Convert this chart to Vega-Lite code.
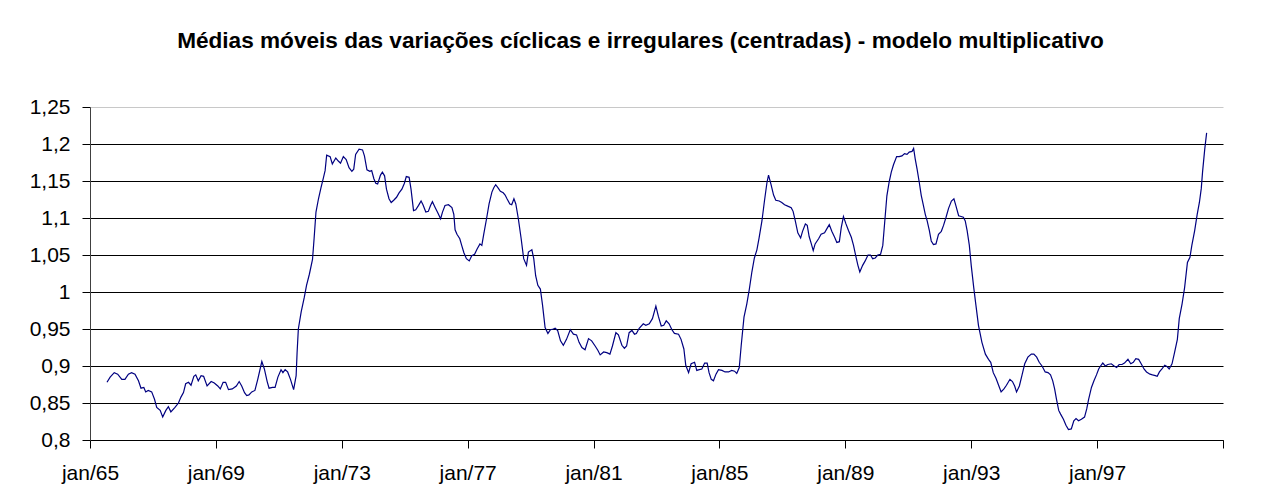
{
  "$schema": "https://vega.github.io/schema/vega-lite/v6.json",
  "width": 1133,
  "height": 333,
  "autosize": {"type": "none"},
  "padding": {"left": 90, "top": 107, "right": 51, "bottom": 60},
  "background": "white",
  "title": {
    "text": "Médias móveis das variações cíclicas e irregulares (centradas) - modelo multiplicativo",
    "font": "Liberation Sans",
    "fontSize": 22.6,
    "fontWeight": "bold",
    "color": "#000000",
    "anchor": "middle",
    "frame": "group",
    "dx": -16,
    "offset": 25,
    "baseline": "alphabetic"
  },
  "data": {
    "values": [
      {"ano": 1965.54, "valor": 0.878}, {"ano": 1965.64, "valor": 0.885}, {"ano": 1965.77, "valor": 0.891}, {"ano": 1965.88, "valor": 0.889},
      {"ano": 1966.01, "valor": 0.882}, {"ano": 1966.11, "valor": 0.882}, {"ano": 1966.22, "valor": 0.889}, {"ano": 1966.32, "valor": 0.891},
      {"ano": 1966.43, "valor": 0.889}, {"ano": 1966.54, "valor": 0.880}, {"ano": 1966.62, "valor": 0.870}, {"ano": 1966.71, "valor": 0.871},
      {"ano": 1966.77, "valor": 0.865}, {"ano": 1966.85, "valor": 0.867}, {"ano": 1966.96, "valor": 0.865}, {"ano": 1967.05, "valor": 0.855},
      {"ano": 1967.12, "valor": 0.844}, {"ano": 1967.23, "valor": 0.840}, {"ano": 1967.31, "valor": 0.831}, {"ano": 1967.41, "valor": 0.840},
      {"ano": 1967.49, "valor": 0.845}, {"ano": 1967.57, "valor": 0.838}, {"ano": 1967.70, "valor": 0.844}, {"ano": 1967.81, "valor": 0.850},
      {"ano": 1967.89, "valor": 0.858}, {"ano": 1967.97, "valor": 0.864}, {"ano": 1968.04, "valor": 0.876}, {"ano": 1968.13, "valor": 0.878},
      {"ano": 1968.21, "valor": 0.874}, {"ano": 1968.30, "valor": 0.886}, {"ano": 1968.36, "valor": 0.888}, {"ano": 1968.44, "valor": 0.880},
      {"ano": 1968.53, "valor": 0.887}, {"ano": 1968.61, "valor": 0.886}, {"ano": 1968.72, "valor": 0.873}, {"ano": 1968.85, "valor": 0.879},
      {"ano": 1968.95, "valor": 0.877}, {"ano": 1969.06, "valor": 0.873}, {"ano": 1969.14, "valor": 0.869}, {"ano": 1969.23, "valor": 0.878},
      {"ano": 1969.31, "valor": 0.878}, {"ano": 1969.40, "valor": 0.868}, {"ano": 1969.52, "valor": 0.869}, {"ano": 1969.65, "valor": 0.873},
      {"ano": 1969.74, "valor": 0.879}, {"ano": 1969.82, "valor": 0.873}, {"ano": 1969.91, "valor": 0.864}, {"ano": 1969.98, "valor": 0.860},
      {"ano": 1970.05, "valor": 0.861}, {"ano": 1970.14, "valor": 0.865}, {"ano": 1970.24, "valor": 0.867}, {"ano": 1970.33, "valor": 0.882},
      {"ano": 1970.46, "valor": 0.906}, {"ano": 1970.54, "valor": 0.896}, {"ano": 1970.63, "valor": 0.879}, {"ano": 1970.69, "valor": 0.870},
      {"ano": 1970.80, "valor": 0.871}, {"ano": 1970.88, "valor": 0.871}, {"ano": 1970.97, "valor": 0.885}, {"ano": 1971.07, "valor": 0.895},
      {"ano": 1971.13, "valor": 0.891}, {"ano": 1971.20, "valor": 0.895}, {"ano": 1971.28, "valor": 0.892}, {"ano": 1971.37, "valor": 0.882},
      {"ano": 1971.47, "valor": 0.868}, {"ano": 1971.55, "valor": 0.887}, {"ano": 1971.58, "valor": 0.918}, {"ano": 1971.62, "valor": 0.950},
      {"ano": 1971.71, "valor": 0.973}, {"ano": 1971.81, "valor": 0.993}, {"ano": 1971.88, "valor": 1.009}, {"ano": 1971.97, "valor": 1.024},
      {"ano": 1972.07, "valor": 1.044}, {"ano": 1972.12, "valor": 1.072}, {"ano": 1972.18, "valor": 1.108}, {"ano": 1972.26, "valor": 1.126},
      {"ano": 1972.34, "valor": 1.141}, {"ano": 1972.42, "valor": 1.155}, {"ano": 1972.47, "valor": 1.164}, {"ano": 1972.52, "valor": 1.185},
      {"ano": 1972.63, "valor": 1.183}, {"ano": 1972.70, "valor": 1.173}, {"ano": 1972.81, "valor": 1.181}, {"ano": 1972.89, "valor": 1.177},
      {"ano": 1972.96, "valor": 1.174}, {"ano": 1973.05, "valor": 1.183}, {"ano": 1973.14, "valor": 1.179}, {"ano": 1973.23, "valor": 1.168},
      {"ano": 1973.32, "valor": 1.163}, {"ano": 1973.38, "valor": 1.166}, {"ano": 1973.44, "valor": 1.186}, {"ano": 1973.55, "valor": 1.193},
      {"ano": 1973.66, "valor": 1.192}, {"ano": 1973.72, "valor": 1.184}, {"ano": 1973.80, "valor": 1.165}, {"ano": 1973.89, "valor": 1.163},
      {"ano": 1973.95, "valor": 1.164}, {"ano": 1974.02, "valor": 1.153}, {"ano": 1974.08, "valor": 1.147}, {"ano": 1974.14, "valor": 1.146},
      {"ano": 1974.23, "valor": 1.158}, {"ano": 1974.29, "valor": 1.162}, {"ano": 1974.36, "valor": 1.157}, {"ano": 1974.42, "valor": 1.139},
      {"ano": 1974.50, "valor": 1.126}, {"ano": 1974.57, "valor": 1.121}, {"ano": 1974.65, "valor": 1.124}, {"ano": 1974.74, "valor": 1.128},
      {"ano": 1974.82, "valor": 1.134}, {"ano": 1974.91, "valor": 1.139}, {"ano": 1974.99, "valor": 1.147}, {"ano": 1975.05, "valor": 1.156},
      {"ano": 1975.14, "valor": 1.155}, {"ano": 1975.20, "valor": 1.139}, {"ano": 1975.28, "valor": 1.110}, {"ano": 1975.35, "valor": 1.111},
      {"ano": 1975.44, "valor": 1.117}, {"ano": 1975.52, "valor": 1.123}, {"ano": 1975.58, "valor": 1.118}, {"ano": 1975.67, "valor": 1.108},
      {"ano": 1975.75, "valor": 1.109}, {"ano": 1975.82, "valor": 1.117}, {"ano": 1975.88, "valor": 1.122}, {"ano": 1975.97, "valor": 1.114},
      {"ano": 1976.05, "valor": 1.107}, {"ano": 1976.14, "valor": 1.099}, {"ano": 1976.20, "valor": 1.108}, {"ano": 1976.28, "valor": 1.117},
      {"ano": 1976.39, "valor": 1.118}, {"ano": 1976.50, "valor": 1.114}, {"ano": 1976.56, "valor": 1.105}, {"ano": 1976.60, "valor": 1.084},
      {"ano": 1976.66, "valor": 1.078}, {"ano": 1976.75, "valor": 1.072}, {"ano": 1976.81, "valor": 1.063}, {"ano": 1976.88, "valor": 1.053},
      {"ano": 1976.96, "valor": 1.045}, {"ano": 1977.05, "valor": 1.042}, {"ano": 1977.13, "valor": 1.049}, {"ano": 1977.22, "valor": 1.051},
      {"ano": 1977.30, "valor": 1.058}, {"ano": 1977.39, "valor": 1.065}, {"ano": 1977.45, "valor": 1.063}, {"ano": 1977.51, "valor": 1.078},
      {"ano": 1977.60, "valor": 1.099}, {"ano": 1977.68, "valor": 1.119}, {"ano": 1977.77, "valor": 1.135}, {"ano": 1977.83, "valor": 1.141},
      {"ano": 1977.89, "valor": 1.145}, {"ano": 1977.96, "valor": 1.141}, {"ano": 1978.04, "valor": 1.136}, {"ano": 1978.13, "valor": 1.134},
      {"ano": 1978.19, "valor": 1.131}, {"ano": 1978.25, "valor": 1.126}, {"ano": 1978.34, "valor": 1.119}, {"ano": 1978.40, "valor": 1.118},
      {"ano": 1978.47, "valor": 1.126}, {"ano": 1978.53, "valor": 1.119}, {"ano": 1978.61, "valor": 1.099}, {"ano": 1978.70, "valor": 1.072},
      {"ano": 1978.78, "valor": 1.045}, {"ano": 1978.87, "valor": 1.036}, {"ano": 1978.93, "valor": 1.054}, {"ano": 1979.04, "valor": 1.057},
      {"ano": 1979.10, "valor": 1.045}, {"ano": 1979.16, "valor": 1.022}, {"ano": 1979.23, "valor": 1.009}, {"ano": 1979.31, "valor": 1.004},
      {"ano": 1979.38, "valor": 0.982}, {"ano": 1979.46, "valor": 0.952}, {"ano": 1979.55, "valor": 0.944}, {"ano": 1979.63, "valor": 0.949},
      {"ano": 1979.72, "valor": 0.950}, {"ano": 1979.78, "valor": 0.951}, {"ano": 1979.86, "valor": 0.948}, {"ano": 1979.95, "valor": 0.934},
      {"ano": 1980.04, "valor": 0.928}, {"ano": 1980.14, "valor": 0.936}, {"ano": 1980.26, "valor": 0.949}, {"ano": 1980.36, "valor": 0.943},
      {"ano": 1980.46, "valor": 0.942}, {"ano": 1980.54, "valor": 0.932}, {"ano": 1980.63, "valor": 0.925}, {"ano": 1980.73, "valor": 0.922},
      {"ano": 1980.84, "valor": 0.937}, {"ano": 1980.94, "valor": 0.934}, {"ano": 1981.05, "valor": 0.927}, {"ano": 1981.14, "valor": 0.921},
      {"ano": 1981.21, "valor": 0.915}, {"ano": 1981.32, "valor": 0.919}, {"ano": 1981.42, "valor": 0.918}, {"ano": 1981.52, "valor": 0.916},
      {"ano": 1981.60, "valor": 0.927}, {"ano": 1981.71, "valor": 0.945}, {"ano": 1981.79, "valor": 0.942}, {"ano": 1981.90, "valor": 0.928},
      {"ano": 1981.98, "valor": 0.924}, {"ano": 1982.05, "valor": 0.927}, {"ano": 1982.13, "valor": 0.945}, {"ano": 1982.22, "valor": 0.948},
      {"ano": 1982.30, "valor": 0.943}, {"ano": 1982.36, "valor": 0.944}, {"ano": 1982.45, "valor": 0.951}, {"ano": 1982.58, "valor": 0.957},
      {"ano": 1982.66, "valor": 0.955}, {"ano": 1982.77, "valor": 0.957}, {"ano": 1982.87, "valor": 0.964}, {"ano": 1982.98, "valor": 0.981},
      {"ano": 1983.06, "valor": 0.967}, {"ano": 1983.15, "valor": 0.954}, {"ano": 1983.23, "valor": 0.955}, {"ano": 1983.31, "valor": 0.961},
      {"ano": 1983.40, "valor": 0.957}, {"ano": 1983.49, "valor": 0.949}, {"ano": 1983.57, "valor": 0.944}, {"ano": 1983.70, "valor": 0.943},
      {"ano": 1983.78, "valor": 0.936}, {"ano": 1983.87, "valor": 0.923}, {"ano": 1983.93, "valor": 0.901}, {"ano": 1984.02, "valor": 0.891},
      {"ano": 1984.10, "valor": 0.903}, {"ano": 1984.21, "valor": 0.905}, {"ano": 1984.28, "valor": 0.894}, {"ano": 1984.36, "valor": 0.895},
      {"ano": 1984.44, "valor": 0.896}, {"ano": 1984.53, "valor": 0.904}, {"ano": 1984.61, "valor": 0.904}, {"ano": 1984.67, "valor": 0.891},
      {"ano": 1984.74, "valor": 0.882}, {"ano": 1984.81, "valor": 0.880}, {"ano": 1984.89, "valor": 0.889}, {"ano": 1984.97, "valor": 0.895},
      {"ano": 1985.08, "valor": 0.894}, {"ano": 1985.18, "valor": 0.892}, {"ano": 1985.29, "valor": 0.892}, {"ano": 1985.39, "valor": 0.894},
      {"ano": 1985.48, "valor": 0.893}, {"ano": 1985.55, "valor": 0.890}, {"ano": 1985.63, "valor": 0.898}, {"ano": 1985.69, "valor": 0.927},
      {"ano": 1985.78, "valor": 0.966}, {"ano": 1985.87, "valor": 0.984}, {"ano": 1985.95, "valor": 1.004}, {"ano": 1986.03, "valor": 1.027},
      {"ano": 1986.11, "valor": 1.046}, {"ano": 1986.19, "valor": 1.057}, {"ano": 1986.26, "valor": 1.073}, {"ano": 1986.35, "valor": 1.096},
      {"ano": 1986.43, "valor": 1.123}, {"ano": 1986.51, "valor": 1.148}, {"ano": 1986.56, "valor": 1.158}, {"ano": 1986.64, "valor": 1.145},
      {"ano": 1986.72, "valor": 1.131}, {"ano": 1986.79, "valor": 1.124}, {"ano": 1986.90, "valor": 1.123}, {"ano": 1986.98, "valor": 1.121},
      {"ano": 1987.07, "valor": 1.118}, {"ano": 1987.17, "valor": 1.116}, {"ano": 1987.28, "valor": 1.114}, {"ano": 1987.34, "valor": 1.109},
      {"ano": 1987.41, "valor": 1.096}, {"ano": 1987.49, "valor": 1.080}, {"ano": 1987.58, "valor": 1.073}, {"ano": 1987.64, "valor": 1.082},
      {"ano": 1987.73, "valor": 1.092}, {"ano": 1987.79, "valor": 1.090}, {"ano": 1987.85, "valor": 1.075}, {"ano": 1987.92, "valor": 1.065},
      {"ano": 1987.98, "valor": 1.056}, {"ano": 1988.04, "valor": 1.065}, {"ano": 1988.15, "valor": 1.072}, {"ano": 1988.23, "valor": 1.078},
      {"ano": 1988.34, "valor": 1.080}, {"ano": 1988.42, "valor": 1.086}, {"ano": 1988.49, "valor": 1.091}, {"ano": 1988.57, "valor": 1.082},
      {"ano": 1988.66, "valor": 1.074}, {"ano": 1988.73, "valor": 1.067}, {"ano": 1988.81, "valor": 1.068}, {"ano": 1988.87, "valor": 1.087},
      {"ano": 1988.94, "valor": 1.102}, {"ano": 1989.02, "valor": 1.092}, {"ano": 1989.10, "valor": 1.083}, {"ano": 1989.19, "valor": 1.074},
      {"ano": 1989.26, "valor": 1.063}, {"ano": 1989.34, "valor": 1.047}, {"ano": 1989.40, "valor": 1.036}, {"ano": 1989.46, "valor": 1.027},
      {"ano": 1989.55, "valor": 1.036}, {"ano": 1989.63, "valor": 1.042}, {"ano": 1989.72, "valor": 1.050}, {"ano": 1989.80, "valor": 1.050},
      {"ano": 1989.87, "valor": 1.045}, {"ano": 1989.95, "valor": 1.046}, {"ano": 1990.03, "valor": 1.050}, {"ano": 1990.12, "valor": 1.051},
      {"ano": 1990.19, "valor": 1.063}, {"ano": 1990.25, "valor": 1.094}, {"ano": 1990.32, "valor": 1.130}, {"ano": 1990.39, "valor": 1.148},
      {"ano": 1990.46, "valor": 1.162}, {"ano": 1990.53, "valor": 1.172}, {"ano": 1990.63, "valor": 1.183}, {"ano": 1990.71, "valor": 1.183},
      {"ano": 1990.80, "valor": 1.184}, {"ano": 1990.88, "valor": 1.187}, {"ano": 1990.96, "valor": 1.186}, {"ano": 1991.03, "valor": 1.189},
      {"ano": 1991.12, "valor": 1.190}, {"ano": 1991.17, "valor": 1.194}, {"ano": 1991.22, "valor": 1.180}, {"ano": 1991.28, "valor": 1.166},
      {"ano": 1991.35, "valor": 1.148}, {"ano": 1991.41, "valor": 1.131}, {"ano": 1991.48, "valor": 1.117}, {"ano": 1991.54, "valor": 1.105},
      {"ano": 1991.60, "valor": 1.096}, {"ano": 1991.67, "valor": 1.083}, {"ano": 1991.73, "valor": 1.069}, {"ano": 1991.80, "valor": 1.064},
      {"ano": 1991.88, "valor": 1.065}, {"ano": 1991.96, "valor": 1.078}, {"ano": 1992.05, "valor": 1.082}, {"ano": 1992.12, "valor": 1.090},
      {"ano": 1992.20, "valor": 1.101}, {"ano": 1992.28, "valor": 1.113}, {"ano": 1992.37, "valor": 1.123}, {"ano": 1992.45, "valor": 1.126},
      {"ano": 1992.51, "valor": 1.117}, {"ano": 1992.60, "valor": 1.103}, {"ano": 1992.68, "valor": 1.102}, {"ano": 1992.75, "valor": 1.101},
      {"ano": 1992.81, "valor": 1.096}, {"ano": 1992.87, "valor": 1.083}, {"ano": 1992.94, "valor": 1.063}, {"ano": 1993.00, "valor": 1.036},
      {"ano": 1993.08, "valor": 1.006}, {"ano": 1993.15, "valor": 0.982}, {"ano": 1993.23, "valor": 0.955}, {"ano": 1993.34, "valor": 0.932},
      {"ano": 1993.45, "valor": 0.916}, {"ano": 1993.55, "valor": 0.909}, {"ano": 1993.62, "valor": 0.905}, {"ano": 1993.70, "valor": 0.891},
      {"ano": 1993.79, "valor": 0.883}, {"ano": 1993.87, "valor": 0.874}, {"ano": 1993.95, "valor": 0.865}, {"ano": 1994.04, "valor": 0.869},
      {"ano": 1994.12, "valor": 0.874}, {"ano": 1994.23, "valor": 0.882}, {"ano": 1994.31, "valor": 0.879}, {"ano": 1994.38, "valor": 0.873},
      {"ano": 1994.44, "valor": 0.865}, {"ano": 1994.53, "valor": 0.873}, {"ano": 1994.61, "valor": 0.887}, {"ano": 1994.70, "valor": 0.903},
      {"ano": 1994.80, "valor": 0.912}, {"ano": 1994.91, "valor": 0.916}, {"ano": 1994.99, "valor": 0.916}, {"ano": 1995.08, "valor": 0.912},
      {"ano": 1995.16, "valor": 0.905}, {"ano": 1995.25, "valor": 0.900}, {"ano": 1995.35, "valor": 0.892}, {"ano": 1995.44, "valor": 0.891},
      {"ano": 1995.52, "valor": 0.888}, {"ano": 1995.59, "valor": 0.880}, {"ano": 1995.65, "valor": 0.869}, {"ano": 1995.71, "valor": 0.855},
      {"ano": 1995.78, "valor": 0.840}, {"ano": 1995.84, "valor": 0.835}, {"ano": 1995.93, "valor": 0.828}, {"ano": 1996.01, "valor": 0.820},
      {"ano": 1996.09, "valor": 0.814}, {"ano": 1996.18, "valor": 0.815}, {"ano": 1996.26, "valor": 0.826}, {"ano": 1996.33, "valor": 0.829},
      {"ano": 1996.41, "valor": 0.826}, {"ano": 1996.50, "valor": 0.828}, {"ano": 1996.60, "valor": 0.831}, {"ano": 1996.67, "valor": 0.842},
      {"ano": 1996.73, "valor": 0.855}, {"ano": 1996.82, "valor": 0.871}, {"ano": 1996.90, "valor": 0.880}, {"ano": 1996.98, "valor": 0.888},
      {"ano": 1997.05, "valor": 0.896}, {"ano": 1997.11, "valor": 0.900}, {"ano": 1997.18, "valor": 0.904}, {"ano": 1997.26, "valor": 0.900},
      {"ano": 1997.34, "valor": 0.902}, {"ano": 1997.45, "valor": 0.903}, {"ano": 1997.54, "valor": 0.900}, {"ano": 1997.62, "valor": 0.898},
      {"ano": 1997.70, "valor": 0.902}, {"ano": 1997.79, "valor": 0.902}, {"ano": 1997.87, "valor": 0.904}, {"ano": 1997.98, "valor": 0.909},
      {"ano": 1998.07, "valor": 0.903}, {"ano": 1998.15, "valor": 0.905}, {"ano": 1998.23, "valor": 0.910}, {"ano": 1998.32, "valor": 0.909},
      {"ano": 1998.40, "valor": 0.903}, {"ano": 1998.49, "valor": 0.896}, {"ano": 1998.57, "valor": 0.892}, {"ano": 1998.68, "valor": 0.889},
      {"ano": 1998.76, "valor": 0.888}, {"ano": 1998.85, "valor": 0.887}, {"ano": 1998.91, "valor": 0.886}, {"ano": 1998.98, "valor": 0.892},
      {"ano": 1999.06, "valor": 0.896}, {"ano": 1999.15, "valor": 0.901}, {"ano": 1999.23, "valor": 0.899}, {"ano": 1999.29, "valor": 0.896},
      {"ano": 1999.38, "valor": 0.903}, {"ano": 1999.46, "valor": 0.918}, {"ano": 1999.55, "valor": 0.936}, {"ano": 1999.61, "valor": 0.964},
      {"ano": 1999.70, "valor": 0.984}, {"ano": 1999.78, "valor": 1.006}, {"ano": 1999.87, "valor": 1.040}, {"ano": 1999.95, "valor": 1.047},
      {"ano": 2000.01, "valor": 1.063}, {"ano": 2000.10, "valor": 1.083}, {"ano": 2000.18, "valor": 1.105}, {"ano": 2000.25, "valor": 1.121},
      {"ano": 2000.31, "valor": 1.140}, {"ano": 2000.35, "valor": 1.162}, {"ano": 2000.42, "valor": 1.193}, {"ano": 2000.48, "valor": 1.215}
    ]
  },
  "mark": {"type": "line", "color": "#000080", "strokeWidth": 1.2, "clip": false},
  "encoding": {
    "x": {
      "field": "ano",
      "type": "quantitative",
      "scale": {"domain": [1965, 2001], "nice": false, "zero": false},
      "axis": {
        "title": null,
        "values": [1965, 1969, 1973, 1977, 1981, 1985, 1989, 1993, 1997, 2001],
        "labelExpr": "datum.value < 2000 ? 'jan/' + format(datum.value % 100, '02d') : ''",
        "grid": false,
        "domainColor": "#000000",
        "domainWidth": 1,
        "tickColor": "#000000",
        "tickSize": 8,
        "labelPadding": 14,
        "labelFontSize": 21,
        "labelFlush": false,
        "labelOverlap": false
      }
    },
    "y": {
      "field": "valor",
      "type": "quantitative",
      "scale": {"domain": [0.8, 1.25], "nice": false, "zero": false},
      "axis": {
        "title": null,
        "values": [0.8, 0.85, 0.9, 0.95, 1, 1.05, 1.1, 1.15, 1.2, 1.25],
        "labelExpr": "replace(format(datum.value, '.2~f'), '.', ',')",
        "grid": true,
        "gridColor": {"condition": {"test": "datum.value > 1.24", "value": "#c8c8c8"}, "value": "#000000"},
        "gridWidth": 1,
        "gridOpacity": 1,
        "domainColor": "#404040",
        "domainWidth": 1,
        "tickColor": "#000000",
        "tickSize": 8,
        "labelPadding": 12,
        "labelFontSize": 21,
        "labelFlush": false,
        "labelOverlap": false
      }
    }
  },
  "config": {
    "view": {"stroke": null},
    "axis": {"labelFont": "Liberation Sans", "labelColor": "#000000"}
  }
}
